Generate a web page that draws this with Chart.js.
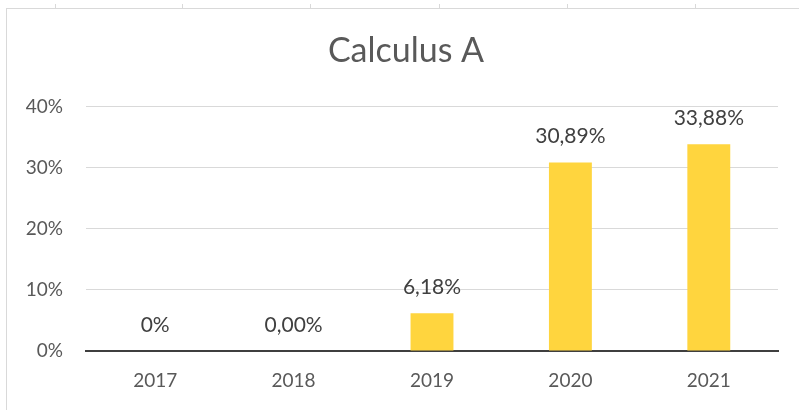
<!DOCTYPE html>
<html>
<head>
<meta charset="utf-8">
<script src="https://cdn.jsdelivr.net/npm/chart.js@4"></script>
<style>
    html, body { margin: 0; padding: 0; background: #fff; }
    #wrap { position: relative; width: 799px; height: 410px; overflow: hidden; }
    #frame { position: absolute; left: 6px; top: 8px; width: 820px; height: 420px; border: 1px solid #d9d9d9; box-sizing: border-box; }
    .cell { position: absolute; top: 4px; width: 1px; height: 4px; background: #d9d9d9; }
    #dashboardChart { position: absolute; left: 0; top: 0; }
</style>
</head>
<body>
<div id="wrap">
    <div class="cell" style="left:55px"></div>
    <div class="cell" style="left:182px"></div>
    <div class="cell" style="left:310px"></div>
    <div class="cell" style="left:439px"></div>
    <div class="cell" style="left:567px"></div>
    <div class="cell" style="left:695px"></div>
    <div id="frame"></div>
    <canvas id="dashboardChart" width="799" height="410"></canvas>
</div>
<script>
const years = ['2017', '2018', '2019', '2020', '2021'];
const percentages = [0, 0, 6.18, 30.89, 33.88];
const labelDecimals = [0, 2, 2, 2, 2];
const yTicks = [0, 10, 20, 30, 40];

const FONT = 'Lato, "Open Sans", sans-serif';

function formatPercent(value, decimals) {
    return value.toFixed(decimals).replace('.', ',') + '%';
}

// writes the value above each bar
const barValueLabels = {
    id: 'barValueLabels',
    afterDatasetsDraw(chart) {
        const ctx = chart.ctx;
        const meta = chart.getDatasetMeta(0);
        ctx.save();
        ctx.font = '21px ' + FONT;
        ctx.fillStyle = '#404040';
        ctx.textAlign = 'center';
        ctx.textBaseline = 'middle';
        meta.data.forEach((bar, i) => {
            ctx.fillText(formatPercent(percentages[i], labelDecimals[i]), bar.x, bar.y - 26);
        });
        ctx.restore();
    }
};

// centre the title on the frame rather than on the padded chart box
const titleOffset = {
    id: 'titleOffset',
    afterLayout(chart) {
        if (chart.titleBlock) {
            chart.titleBlock.left = 34;
        }
    }
};

function initializeDashboardChart() {
    const chart = document.getElementById('dashboardChart');

    const data = {
        labels: years,
        datasets: [{
            data: percentages,
            backgroundColor: '#FFD53E',
            categoryPercentage: 1,
            barPercentage: 0.31
        }]
    };

    const options = {
        responsive: false,
        animation: false,
        layout: {
            padding: { left: 0, right: 21, top: 0, bottom: 0 }
        },
        plugins: {
            legend: { display: false },
            tooltip: { enabled: false },
            title: {
                display: true,
                text: 'Calculus A',
                color: '#595959',
                font: { family: FONT, size: 34, weight: 'normal' },
                padding: { top: 31, bottom: 35 }
            }
        },
        scales: {
            x: {
                grid: { display: false, drawTicks: false },
                border: { display: true, color: '#3f3f3f', width: 2 },
                ticks: { color: '#595959', font: { family: FONT, size: 19 }, padding: 18 },
                afterFit(scale) { scale.height = 59; }
            },
            y: {
                min: 0,
                max: 40,
                afterBuildTicks(scale) {
                    scale.ticks = yTicks.map(v => ({ value: v }));
                },
                grid: { color: '#d9d9d9', drawTicks: false },
                border: { display: false },
                ticks: {
                    color: '#595959',
                    font: { family: FONT, size: 19 },
                    padding: 23,
                    callback: value => value + '%'
                },
                afterFit(scale) { scale.width = 86; }
            }
        }
    };

    new Chart(chart, {
        type: 'bar',
        data: data,
        options: options,
        plugins: [barValueLabels, titleOffset]
    });
}

window.addEventListener('load', initializeDashboardChart);
</script>
</body>
</html>
